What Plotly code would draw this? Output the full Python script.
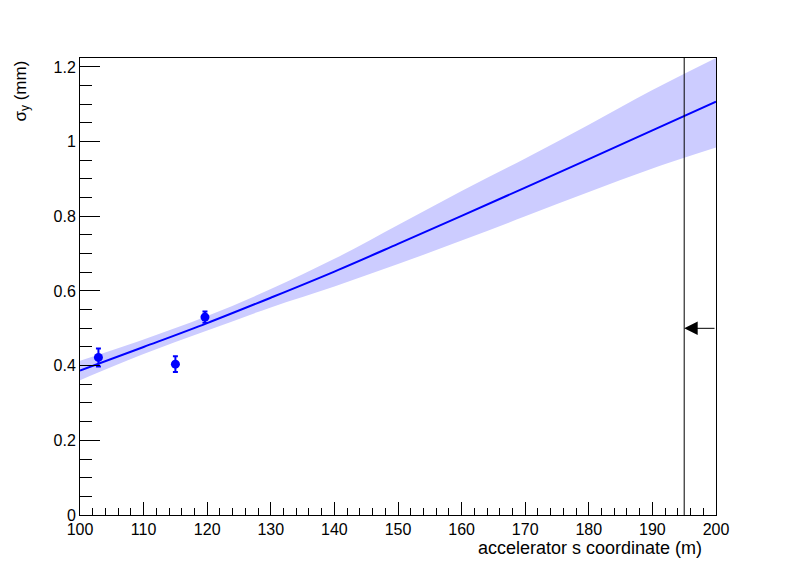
import plotly.graph_objects as go

# Fit curve and its error band
s_fit = [100, 110, 120, 130, 140, 150, 160, 170, 180, 190, 200]
sigma_fit = [0.387, 0.450, 0.514, 0.582, 0.652, 0.726, 0.801, 0.877, 0.953, 1.030, 1.107]
sigma_lo = [0.361, 0.431, 0.494, 0.556, 0.612, 0.672, 0.735, 0.800, 0.865, 0.928, 0.984]
sigma_hi = [0.413, 0.470, 0.533, 0.605, 0.686, 0.777, 0.868, 0.955, 1.045, 1.138, 1.224]

# Measured points
s_meas = [102.9, 115.0, 119.65]
sigma_meas = [0.422, 0.404, 0.530]
sigma_err = [0.024, 0.021, 0.015]

# Marker line and arrow
s_cut = 195.0
arrow_y = 0.5
arrow_from = 200.0

font_family = "Liberation Sans, Arial, Helvetica, sans-serif"

# the page body has an 8px margin, so margins are shifted accordingly
ML, MT = 72, 50

fig = go.Figure()
fig.add_trace(go.Scatter(x=s_fit, y=sigma_lo, mode="lines", line=dict(width=0, color="#ccccff", shape="spline"),
                         showlegend=False, hoverinfo="skip"))
fig.add_trace(go.Scatter(x=s_fit, y=sigma_hi, mode="lines", line=dict(width=0, color="#ccccff", shape="spline"),
                         fill="tonexty", fillcolor="#ccccff", showlegend=False, hoverinfo="skip"))
fig.add_trace(go.Scatter(x=s_fit, y=sigma_fit, mode="lines", line=dict(width=2, color="#0000ff", shape="spline"),
                         showlegend=False))
fig.add_trace(go.Scatter(x=s_meas, y=sigma_meas, mode="markers",
                         marker=dict(size=9, color="#0000ff"),
                         error_y=dict(type="data", array=sigma_err, color="#0000ff", thickness=2, width=2.5),
                         showlegend=False))

fig.add_shape(type="line", xref="x", yref="paper", x0=s_cut, x1=s_cut, y0=0, y1=1,
              line=dict(color="black", width=1))
fig.add_annotation(x=s_cut, y=arrow_y, ax=arrow_from, ay=arrow_y, xref="x", yref="y",
                   axref="x", ayref="y", showarrow=True, arrowhead=2, arrowsize=2.7,
                   arrowwidth=1, arrowcolor="black", text="")

fig.add_annotation(text="σ<sub>y</sub> (mm)", textangle=-90, xref="paper", yref="paper",
                   x=(22 - 80) / 636, y=(515 - 59) / 457, xanchor="center", yanchor="top",
                   showarrow=False, font=dict(family=font_family, size=17, color="black"))
fig.add_annotation(text="accelerator s coordinate (m)", xref="paper", yref="paper",
                   x=(704 - 80) / 636, y=-(548 - 515) / 457, xanchor="right", yanchor="middle",
                   showarrow=False, font=dict(family=font_family, size=18, color="black"))

fig.update_layout(
    width=796, height=572,
    margin=dict(l=ML, r=796 - ML - 636, t=MT, b=572 - MT - 457),
    paper_bgcolor="white", plot_bgcolor="white",
    font=dict(family=font_family, size=16, color="black"),
    xaxis=dict(range=[100, 200], showgrid=False, zeroline=False, showline=True, mirror=True,
               linecolor="black", linewidth=1, ticks="inside", ticklen=13, tickcolor="black",
               tick0=100, dtick=10, tickfont=dict(size=16),
               minor=dict(ticks="inside", ticklen=7, dtick=2, tickcolor="black", showgrid=False)),
    yaxis=dict(range=[0, 1.224], showgrid=False, zeroline=False, showline=True, mirror=True,
               linecolor="black", linewidth=1, ticks="inside", ticklen=20, tickcolor="black",
               tick0=0, dtick=0.2, tickfont=dict(size=16), tickformat="~g",
               minor=dict(ticks="inside", ticklen=12, dtick=0.05, tickcolor="black", showgrid=False)),
)

fig.write_html("out.html")
